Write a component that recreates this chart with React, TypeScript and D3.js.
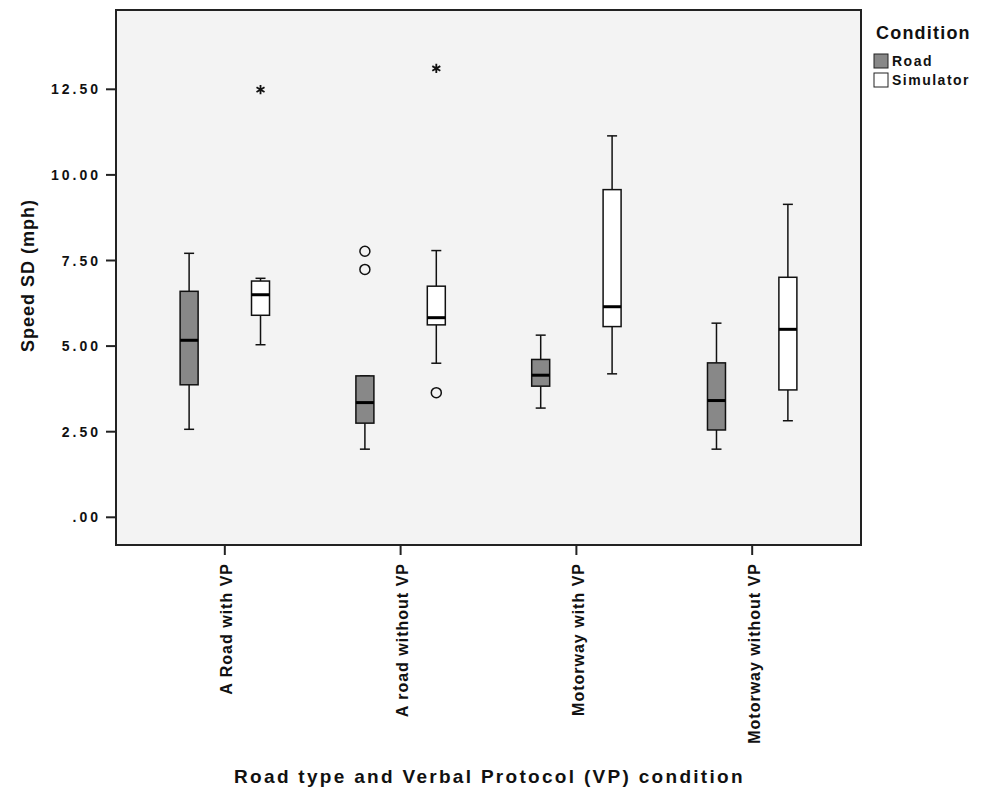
import React from "react";
import * as d3 from "d3";

const categories = [
  "A Road with VP",
  "A road without VP",
  "Motorway with VP",
  "Motorway without VP",
];
const conditions = ["Road", "Simulator"];
const conditionFill = ["#888888", "#ffffff"];

// [whiskerLow, q1, median, q3, whiskerHigh] per category
const roadStats = [
  [2.57, 3.87, 5.17, 6.6, 7.71],
  [1.99, 2.75, 3.35, 4.13, 4.13],
  [3.19, 3.83, 4.15, 4.61, 5.32],
  [1.99, 2.55, 3.41, 4.51, 5.67],
];
const simStats = [
  [5.04, 5.9, 6.5, 6.9, 6.98],
  [4.5, 5.62, 5.83, 6.75, 7.79],
  [4.19, 5.57, 6.15, 9.57, 11.14],
  [2.82, 3.72, 5.49, 7.01, 9.14],
];
// outliers: circles = mild, stars = extreme
const roadCircles = [[], [7.77, 7.24], [], []];
const simCircles = [[], [3.64], [], []];
const roadStars = [[], [], [], []];
const simStars = [[12.49], [13.11], [], []];

const yTicks = [0, 2.5, 5, 7.5, 10, 12.5];

const W = 987;
const H = 795;
const plot = { left: 116, right: 861, top: 10, bottom: 545 };
const FONT = "Arial, 'Liberation Sans', Helvetica, sans-serif";

export default function App() {
  const y = d3.scaleLinear().domain([0, 12.5]).range([517.3, 89.3]);
  const x = d3
    .scalePoint<string>()
    .domain(categories)
    .range([plot.left, plot.right])
    .padding(0.619);
  const offset = d3.scaleOrdinal<string, number>().domain(conditions).range([-35.7, 35.7]);
  const boxW = 18;
  const capW = 10;
  const star = d3.symbol().type(d3.symbolAsterisk).size(60)();

  const allStats = [roadStats, simStats];
  const allCircles = [roadCircles, simCircles];
  const allStars = [roadStars, simStars];

  const tickLs = 3;
  const catLs = 1;

  return (
    <svg
      width={W}
      height={H}
      style={{ position: "absolute", left: 0, top: 0, background: "#fff" }}
      fontFamily={FONT}
    >
      <rect
        x={plot.left}
        y={plot.top}
        width={plot.right - plot.left}
        height={plot.bottom - plot.top}
        fill="#f3f3f3"
      />

      {/* boxes */}
      {categories.map((cat, ci) =>
        conditions.map((cond, k) => {
          const cx = (x(cat) as number) + offset(cond);
          const [lo, q1, med, q3, hi] = allStats[k][ci];
          return (
            <g key={cat + cond}>
              <line x1={cx} x2={cx} y1={y(hi)} y2={y(q3)} stroke="#111" strokeWidth={1.5} />
              <line x1={cx} x2={cx} y1={y(q1)} y2={y(lo)} stroke="#111" strokeWidth={1.5} />
              <line x1={cx - capW / 2} x2={cx + capW / 2} y1={y(hi)} y2={y(hi)} stroke="#111" strokeWidth={1.5} />
              <line x1={cx - capW / 2} x2={cx + capW / 2} y1={y(lo)} y2={y(lo)} stroke="#111" strokeWidth={1.5} />
              <rect
                x={cx - boxW / 2}
                y={y(q3)}
                width={boxW}
                height={y(q1) - y(q3)}
                fill={conditionFill[k]}
                stroke="#111"
                strokeWidth={1.5}
              />
              <line x1={cx - boxW / 2} x2={cx + boxW / 2} y1={y(med)} y2={y(med)} stroke="#000" strokeWidth={3} />
              {allCircles[k][ci].map((v, i) => (
                <circle key={"c" + i} cx={cx} cy={y(v)} r={5} fill="none" stroke="#111" strokeWidth={1.5} />
              ))}
              {allStars[k][ci].map((v, i) => (
                <path key={"s" + i} d={star as string} transform={`translate(${cx},${y(v)})`} fill="none" stroke="#111" strokeWidth={1.8} />
              ))}
            </g>
          );
        })
      )}

      {/* frame */}
      <rect
        x={plot.left}
        y={plot.top}
        width={plot.right - plot.left}
        height={plot.bottom - plot.top}
        fill="none"
        stroke="#222"
        strokeWidth={2}
      />

      {/* y axis */}
      {yTicks.map((t) => (
        <g key={t}>
          <line x1={plot.left - 10} x2={plot.left} y1={y(t)} y2={y(t)} stroke="#222" strokeWidth={2} />
          <text
            x={98 + tickLs}
            y={y(t)}
            textAnchor="end"
            dominantBaseline="central"
            fontSize={14}
            fontWeight="bold"
            letterSpacing={tickLs}
            fill="#111"
          >
            {t === 0 ? ".00" : d3.format(".2f")(t)}
          </text>
        </g>
      ))}
      <text
        transform={`translate(34,${(plot.top + plot.bottom) / 2 - 2}) rotate(-90)`}
        textAnchor="middle"
        fontSize={18}
        fontWeight="bold"
        letterSpacing={1}
        fill="#111"
      >
        Speed SD (mph)
      </text>

      {/* x axis */}
      {categories.map((cat) => (
        <g key={cat}>
          <line
            x1={x(cat) as number}
            x2={x(cat) as number}
            y1={plot.bottom}
            y2={plot.bottom + 10}
            stroke="#222"
            strokeWidth={2}
          />
          <text
            transform={`translate(${(x(cat) as number) + 2},${plot.bottom + 19 - catLs}) rotate(-90)`}
            textAnchor="end"
            dominantBaseline="central"
            fontSize={16}
            fontWeight="bold"
            letterSpacing={catLs}
            fill="#111"
          >
            {cat}
          </text>
        </g>
      ))}
      <text
        x={(plot.left + plot.right) / 2 + 1}
        y={783}
        textAnchor="middle"
        fontSize={19}
        fontWeight="bold"
        letterSpacing={2.3}
        fill="#111"
      >
        Road type and Verbal Protocol (VP) condition
      </text>

      {/* legend */}
      <text x={876} y={39} fontSize={18} fontWeight="bold" letterSpacing={1.2} fill="#111">
        Condition
      </text>
      {conditions.map((c, i) => (
        <g key={c} transform={`translate(874,${54 + i * 19})`}>
          <rect width={14} height={14} fill={conditionFill[i]} stroke="#222" strokeWidth={1} />
          <text x={18} y={7} dominantBaseline="central" fontSize={14} fontWeight="bold" letterSpacing={1.5} fill="#111">
            {c}
          </text>
        </g>
      ))}
    </svg>
  );
}
